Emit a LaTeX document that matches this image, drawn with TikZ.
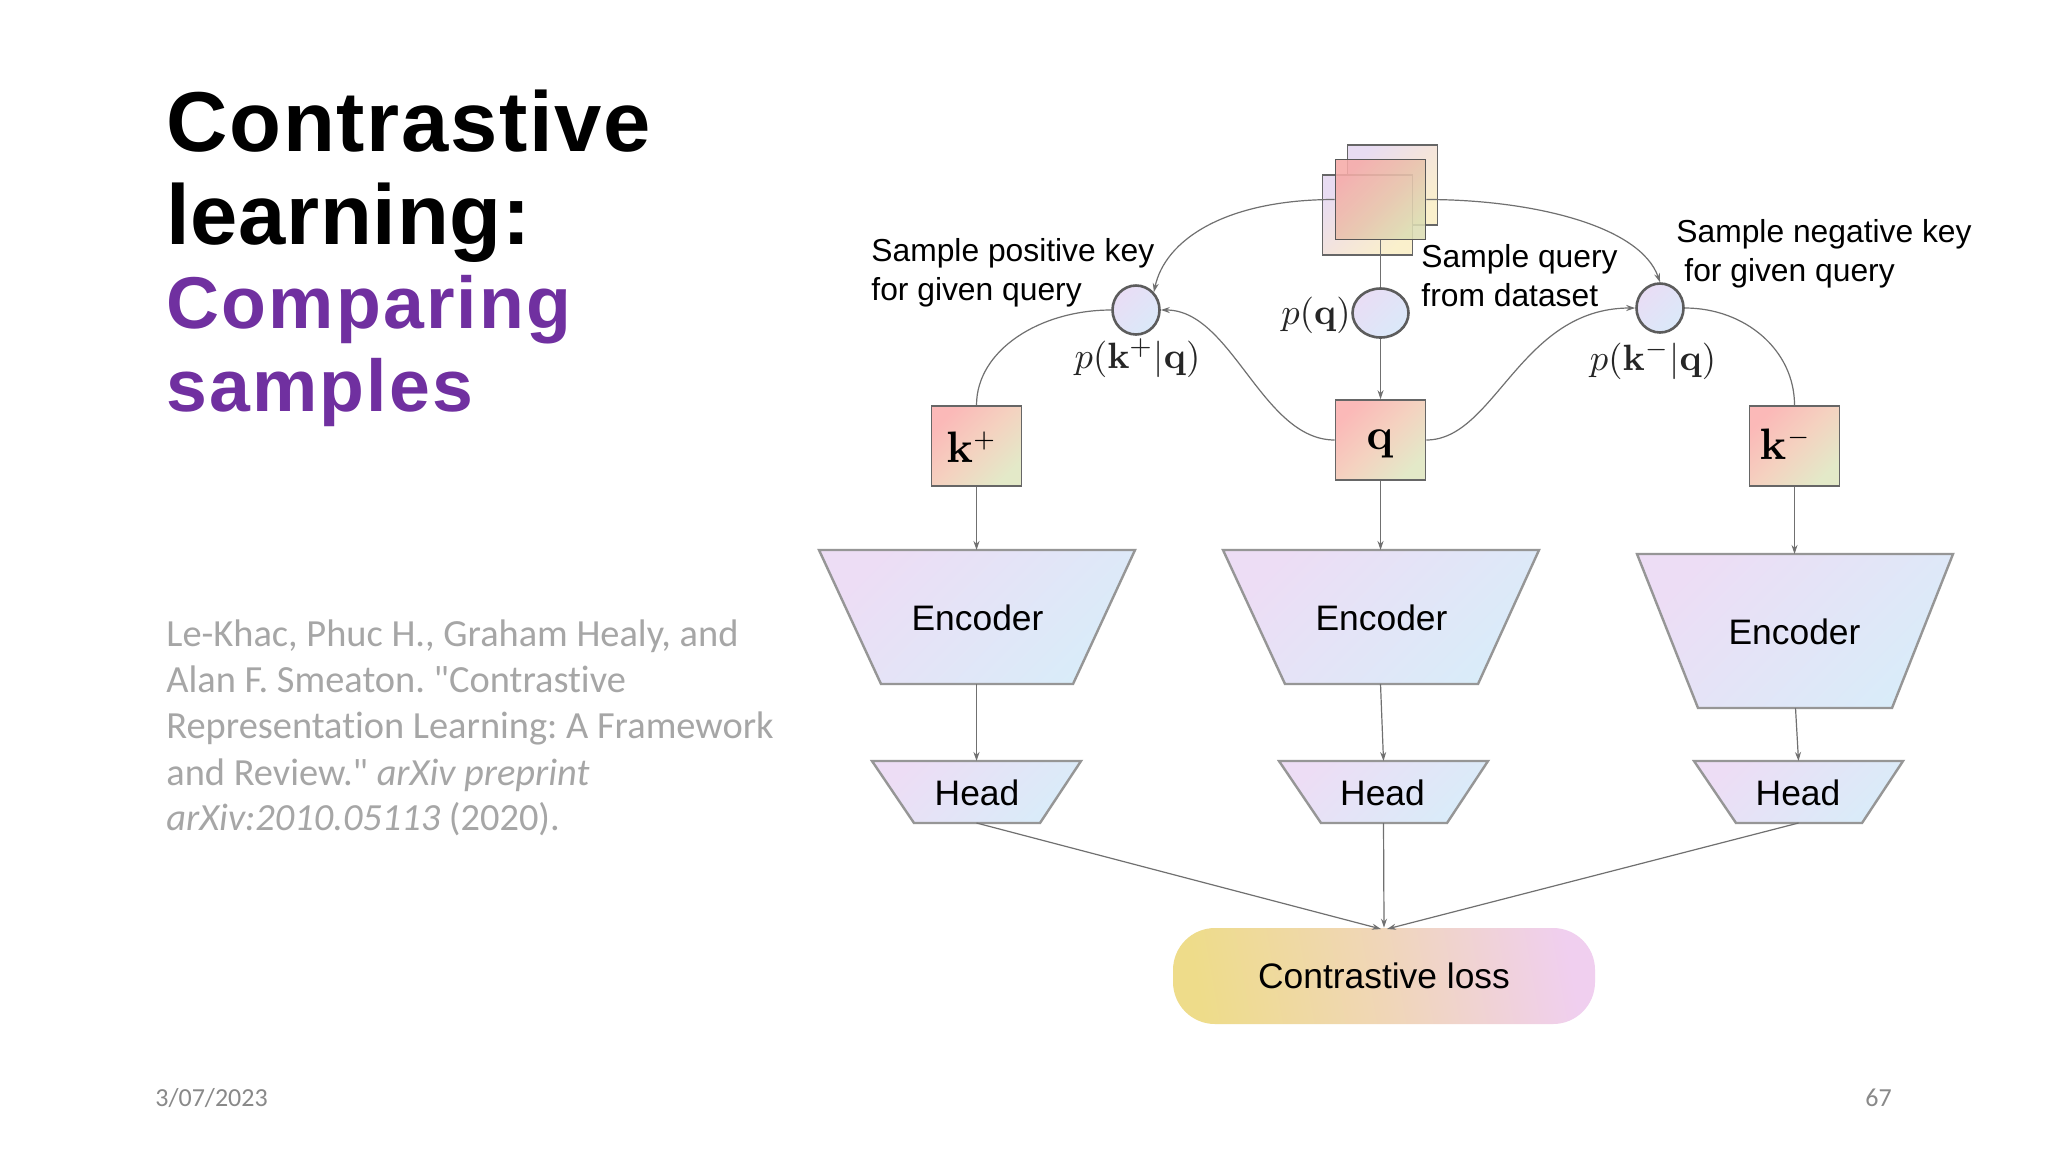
\documentclass[tikz,border=0pt]{standalone}
\usepackage[no-math]{fontspec}
\usetikzlibrary{shapes.geometric,arrows.meta}
\newfontfamily\titlefont[LetterSpace=2]{Liberation Sans}
\newfontfamily\learnfont[LetterSpace=0.8]{Liberation Sans}
\newfontfamily\subtitlefont[LetterSpace=3]{Liberation Sans}
\newfontfamily\bodyfont[Ligatures=NoCommon]{Carlito}
\newfontfamily\figfont{Liberation Sans}
\definecolor{linegray}{HTML}{707070}
\definecolor{edgedark}{HTML}{666666}
\definecolor{edgetrap}{HTML}{969696}
\definecolor{titlepurple}{HTML}{7030A0}
\definecolor{bodygray}{HTML}{A6A6A6}
\definecolor{footgray}{HTML}{898989}
\definecolor{keyA}{HTML}{FBB9B8}
\definecolor{keyB}{HTML}{F4D2C0}
\definecolor{keyC}{HTML}{E3E9C8}
\definecolor{stackA}{HTML}{F6ABA8}
\definecolor{stackB}{HTML}{E9C2AC}
\definecolor{stackC}{HTML}{DCDDB4}
\definecolor{paleA}{HTML}{E8DCF2}
\definecolor{paleB}{HTML}{F4E4DC}
\definecolor{paleC}{HTML}{FAF0CC}
\definecolor{blobA}{HTML}{E9DDF5}
\definecolor{blobB}{HTML}{DAE9F9}
\definecolor{trapA}{HTML}{EDDDF5}
\definecolor{trapB}{HTML}{D9ECF9}
\definecolor{lossA}{HTML}{EEDC8A}
\definecolor{lossB}{HTML}{F0D6B8}
\definecolor{lossC}{HTML}{F0CFEF}
\tikzset{
  conn/.style={draw=linegray,line width=.6pt},
  arr/.style={conn,-{Stealth[length=4.5pt,width=3pt]}},
  keybox/.style={rectangle,draw=edgedark,line width=.8pt,inner sep=0pt,minimum width=45pt,minimum height=40pt,
    top color=keyA,bottom color=keyC,middle color=keyB,shading angle=45},
  stackbox/.style={rectangle,draw=edgedark!85!black,line width=.9pt,inner sep=0pt,minimum width=45pt,minimum height=40pt,
    top color=stackA,bottom color=stackC,middle color=stackB,shading angle=45,fill opacity=.88},
  palebox/.style={rectangle,draw=edgedark,line width=.8pt,inner sep=0pt,minimum width=45pt,minimum height=40pt,
    top color=paleA,bottom color=paleC,middle color=paleB,shading angle=45},
  blob/.style={ellipse,draw=edgedark!90!black,line width=1.3pt,inner sep=0pt,top color=blobA,bottom color=blobB,shading angle=45},
  trap/.style={draw=edgetrap,line width=1.2pt,line join=miter,top color=trapA,bottom color=trapB,shading angle=45},
  figtext/.style={font=\figfont\fontsize{15.9}{19.5}\selectfont,text=black,inner sep=0pt},
  boxtext/.style={font=\figfont\fontsize{17.7}{20}\selectfont,text=black,inner sep=0pt},
  mathtext/.style={scale=1.83,inner sep=0pt,text=black!85},
  keytext/.style={scale=2.2,inner sep=0pt,text=black},
  titleblack/.style={font=\titlefont\bfseries\fontsize{42.5}{46}\selectfont,text=black,anchor=base west,inner sep=0pt},
  titlelearn/.style={font=\learnfont\bfseries\fontsize{42.5}{46}\selectfont,text=black,anchor=base west,inner sep=0pt},
  titlepur/.style={font=\subtitlefont\bfseries\fontsize{36.7}{42}\selectfont,text=titlepurple,anchor=base west,inner sep=0pt},
  bodyline/.style={font=\bodyfont\frenchspacing\fontsize{19.2}{23}\selectfont,text=bodygray,anchor=base west,inner sep=0pt},
  footline/.style={font=\bodyfont\fontsize{13}{15}\selectfont,text=footgray,anchor=base west,inner sep=0pt},
}
\begin{document}
\begin{tikzpicture}[x=0.5pt,y=-0.5pt]
\path[fill=white] (0,0) rectangle (2048,1152);
\useasboundingbox (0,0) rectangle (2048,1152);

% title
\node[titleblack] (t1) at (166,151.5) {Contrastive};
\node[titlelearn] (t2) at (166,244) {learning:};
\node[titlepur] (t3) at (166,328) {Comparing};
\node[titlepur] (t4) at (166,411.5) {samples};

% citation
\node[bodyline] (b1) at (166,646) {Le-Khac, Phuc H., Graham Healy, and};
\node[bodyline] (b2) at (166,692) {Alan F. Smeaton. "Contrastive};
\node[bodyline] (b3) at (166,738) {Representation Learning: A Framework};
\node[bodyline] (b4) at (166,785) {and Review." \textit{arXiv preprint}};
\node[bodyline] (b5) at (166,830) {\textit{arXiv:2010.05113} (2020).};

% footer
\node[footline] (f1) at (155,1106) {3/07/2023};
\node[footline] (f2) at (1865,1106) {67};

% data stack
\node[palebox] (sb) at (1392.5,185) {};
\node[palebox] (sf) at (1367.5,215) {};
\node[stackbox] (st) at (1380.5,199.5) {};

% sampling blobs
\node[blob,minimum width=23.5pt,minimum height=24.5pt] (kp) at (1136,310) {};
\node[blob,minimum width=28pt,minimum height=24.5pt] (qc) at (1380.5,313) {};
\node[blob,minimum width=23.5pt,minimum height=24.5pt] (km) at (1660,308) {};

% key boxes
\node[keybox] (bp) at (976.5,446) {};
\node[keybox] (bq) at (1380.5,440) {};
\node[keybox] (bm) at (1794.5,446) {};
\node[keytext] (lp) at (972,447) {$\mathbf{k}^{\scriptscriptstyle +}$};
\node[keytext] (lq) at (1380,444) {$\mathbf{q}$};
\node[keytext] (lm) at (1786,444) {$\mathbf{k}^{\scriptscriptstyle -}$};

% encoders
\path[trap] (819,550) -- (1135,550) -- (1073,684) -- (881,684) -- cycle;
\path[trap] (1223,550) -- (1539,550) -- (1478,684) -- (1285,684) -- cycle;
\path[trap] (1637,554) -- (1953,554) -- (1892,708) -- (1698,708) -- cycle;
\node[boxtext] (e1) at (977.5,618) {Encoder};
\node[boxtext] (e2) at (1381.5,618) {Encoder};
\node[boxtext] (e3) at (1794.5,632) {Encoder};
\coordinate (e1t) at (976.5,550); \coordinate (e1b) at (976.5,684);
\coordinate (e2t) at (1380.5,550); \coordinate (e2b) at (1380.5,684);
\coordinate (e3t) at (1794.5,554); \coordinate (e3b) at (1795.5,708);

% heads
\path[trap] (872,761) -- (1081,761) -- (1040,823) -- (914,823) -- cycle;
\path[trap] (1279,761) -- (1488,761) -- (1447,823) -- (1321,823) -- cycle;
\path[trap] (1694,761) -- (1903,761) -- (1862,823) -- (1736,823) -- cycle;
\node[boxtext] (h1) at (977,793) {Head};
\node[boxtext] (h2) at (1382.5,793) {Head};
\node[boxtext] (h3) at (1798,793) {Head};
\coordinate (h1t) at (976.5,761); \coordinate (h1b) at (976.5,823);
\coordinate (h2t) at (1383.5,761); \coordinate (h2b) at (1383.5,823);
\coordinate (h3t) at (1798.5,761); \coordinate (h3b) at (1798.5,823);

% loss
\node[rectangle,rounded corners=21pt,minimum width=211pt,minimum height=48pt,inner sep=0pt,
  left color=lossA,right color=lossC,middle color=lossB,shading angle=100,
  font=\figfont\fontsize{17.7}{20}\selectfont,text=black] (loss) at (1384,976) {Contrastive loss};
\coordinate (ll) at (1381,929); \coordinate (lr) at (1387,929);

% connectors
\draw[conn] (st.south) -- (qc.north);
\draw[arr] (qc.south) -- (bq.north);
\draw[arr] (st.west) .. controls (1225,199.5) and (1165,240) .. (kp.45);
\draw[arr] (st.east) .. controls (1530,199.5) and (1640,225) .. (km.north);
\draw[conn] (bp.north) .. controls (976.5,350) and (1040,310) .. (kp.west);
\draw[conn] (km.east) .. controls (1745,308) and (1794.5,350) .. (bm.north);
\draw[arr] (bq.west) .. controls (1262,440) and (1232,310) .. (kp.east);
\draw[arr] (bq.east) .. controls (1495,440) and (1520,308) .. (km.west);
\draw[arr] (bp.south) -- (e1t);
\draw[arr] (bq.south) -- (e2t);
\draw[arr] (bm.south) -- (e3t);
\draw[arr] (e1b) -- (h1t);
\draw[arr] (e2b) -- (h2t);
\draw[arr] (e3b) -- (h3t);
\draw[arr] (h1b) -- (ll);
\draw[arr] (h2b) -- (loss.north);
\draw[arr] (h3b) -- (lr);

% labels
\node[figtext,align=left,anchor=west] (s1) at (871,273) {Sample positive key\\for given query};
\node[figtext,align=left,anchor=west] (s2) at (1421,276) {Sample query\\from dataset};
\node[figtext,align=left,anchor=west] (s3) at (1676,254) {Sample negative key\\\hspace*{4pt}for given query};
\node[mathtext] (m1) at (1137.5,358) {$p(\mathbf{k}^{+}|\mathbf{q})$};
\node[mathtext] (m2) at (1653,360) {$p(\mathbf{k}^{-}|\mathbf{q})$};
\node[mathtext] (m3) at (1316,315) {$p(\mathbf{q})$};
\end{tikzpicture}
\end{document}
